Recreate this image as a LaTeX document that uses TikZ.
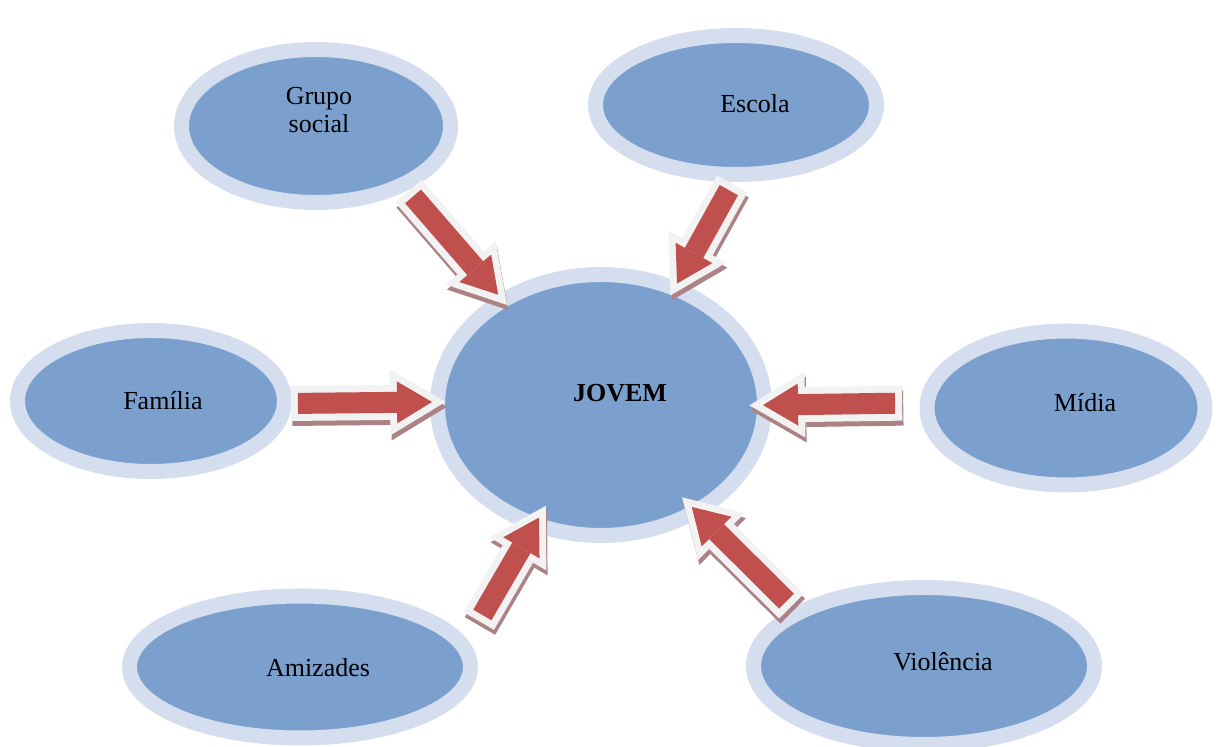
\documentclass[tikz,border=0pt]{standalone}
\usepackage{fontspec}
\setmainfont{Liberation Serif}
\usetikzlibrary{shapes.geometric,arrows.meta}

\definecolor{ringblue}{RGB}{212,222,238}
\definecolor{bubbleblue}{RGB}{123,160,205}
\definecolor{arrowred}{RGB}{192,80,77}
\definecolor{arrowrim}{RGB}{242,242,242}
\definecolor{arrowshade}{RGB}{172,130,133}

\tikzstyle{bubble} = [ellipse, draw=ringblue, line width=7.5pt, fill=bubbleblue, inner sep=0pt]
\tikzstyle{bubble_txt} = [font=\fontsize{13}{14}\selectfont, align=center, inner sep=0pt]
\tikzset{
    bigarrow/.style 2 args={
        arrowred, line width=10.5pt,
        -{Triangle[length=17.5pt,width=21pt,line width=0pt]},
        shorten <=#1, shorten >=#2,
        preaction={draw=arrowshade, line width=17.5pt,
            transform canvas={shift={(0.6pt,-2.5pt)}},
            -{Triangle[length=27.8pt,width=33pt,line width=0pt]},
            shorten <=#1-3.5pt, shorten >=#2-6.8pt},
        preaction={draw=arrowrim, line width=17.5pt,
            -{Triangle[length=27.8pt,width=33pt,line width=0pt]},
            shorten <=#1-3.5pt, shorten >=#2-6.8pt}
    }
}

\begin{document}
\begin{tikzpicture}[x=0.5pt, y=-0.5pt]
        \useasboundingbox (0,0) rectangle (1216,747);
        % bubbles
        \node (jovem) [bubble, minimum width=163.5pt, minimum height=130.5pt] at (601,405) {};
        \node (grupo) [bubble, minimum width=134.5pt, minimum height=76.5pt] at (316,126) {};
        \node (escola) [bubble, minimum width=140.5pt, minimum height=69.5pt] at (736,105) {};
        \node (familia) [bubble, minimum width=133.5pt, minimum height=70.5pt] at (151,401) {};
        \node (midia) [bubble, minimum width=139pt, minimum height=77pt] at (1066,408) {};
        \node (amizades) [bubble, minimum width=170.5pt, minimum height=71pt] at (300,667) {};
        \node (violencia) [bubble, minimum width=170.5pt, minimum height=78.5pt] at (924,666) {};
        % texts
        \node (jovem_txt) [bubble_txt, font=\fontsize{13}{14}\selectfont\bfseries] at (620,393) {JOVEM};
        \node (grupo_txt) [bubble_txt] at (319,110) {Grupo\\social};
        \node (escola_txt) [bubble_txt] at (755,104) {Escola};
        \node (familia_txt) [bubble_txt] at (163,401) {Família};
        \node (midia_txt) [bubble_txt] at (1085,403) {Mídia};
        \node (amizades_txt) [bubble_txt] at (318,668) {Amizades};
        \node (violencia_txt) [bubble_txt] at (943,662) {Violência};
        % arrows
        \draw [bigarrow={4.15pt}{0pt}] (grupo.-35.5) -- (jovem.133.9);
        \draw [bigarrow={4.65pt}{-1pt}] (escola.268.3) -- (jovem.58.8);
        \draw [bigarrow={3pt}{-1pt}] (familia.-1.2) -- (jovem.179.3);
        \draw [bigarrow={12.35pt}{-4.5pt}] (midia.178.4) -- (jovem.0.7);
        \draw [bigarrow={14.75pt}{-7.75pt}] (amizades.9.9) -- (jovem.241.3);
        \draw [bigarrow={4.65pt}{-6.9pt}] (violencia.156.5) -- (jovem.-48.8);
    \end{tikzpicture}
\end{document}
